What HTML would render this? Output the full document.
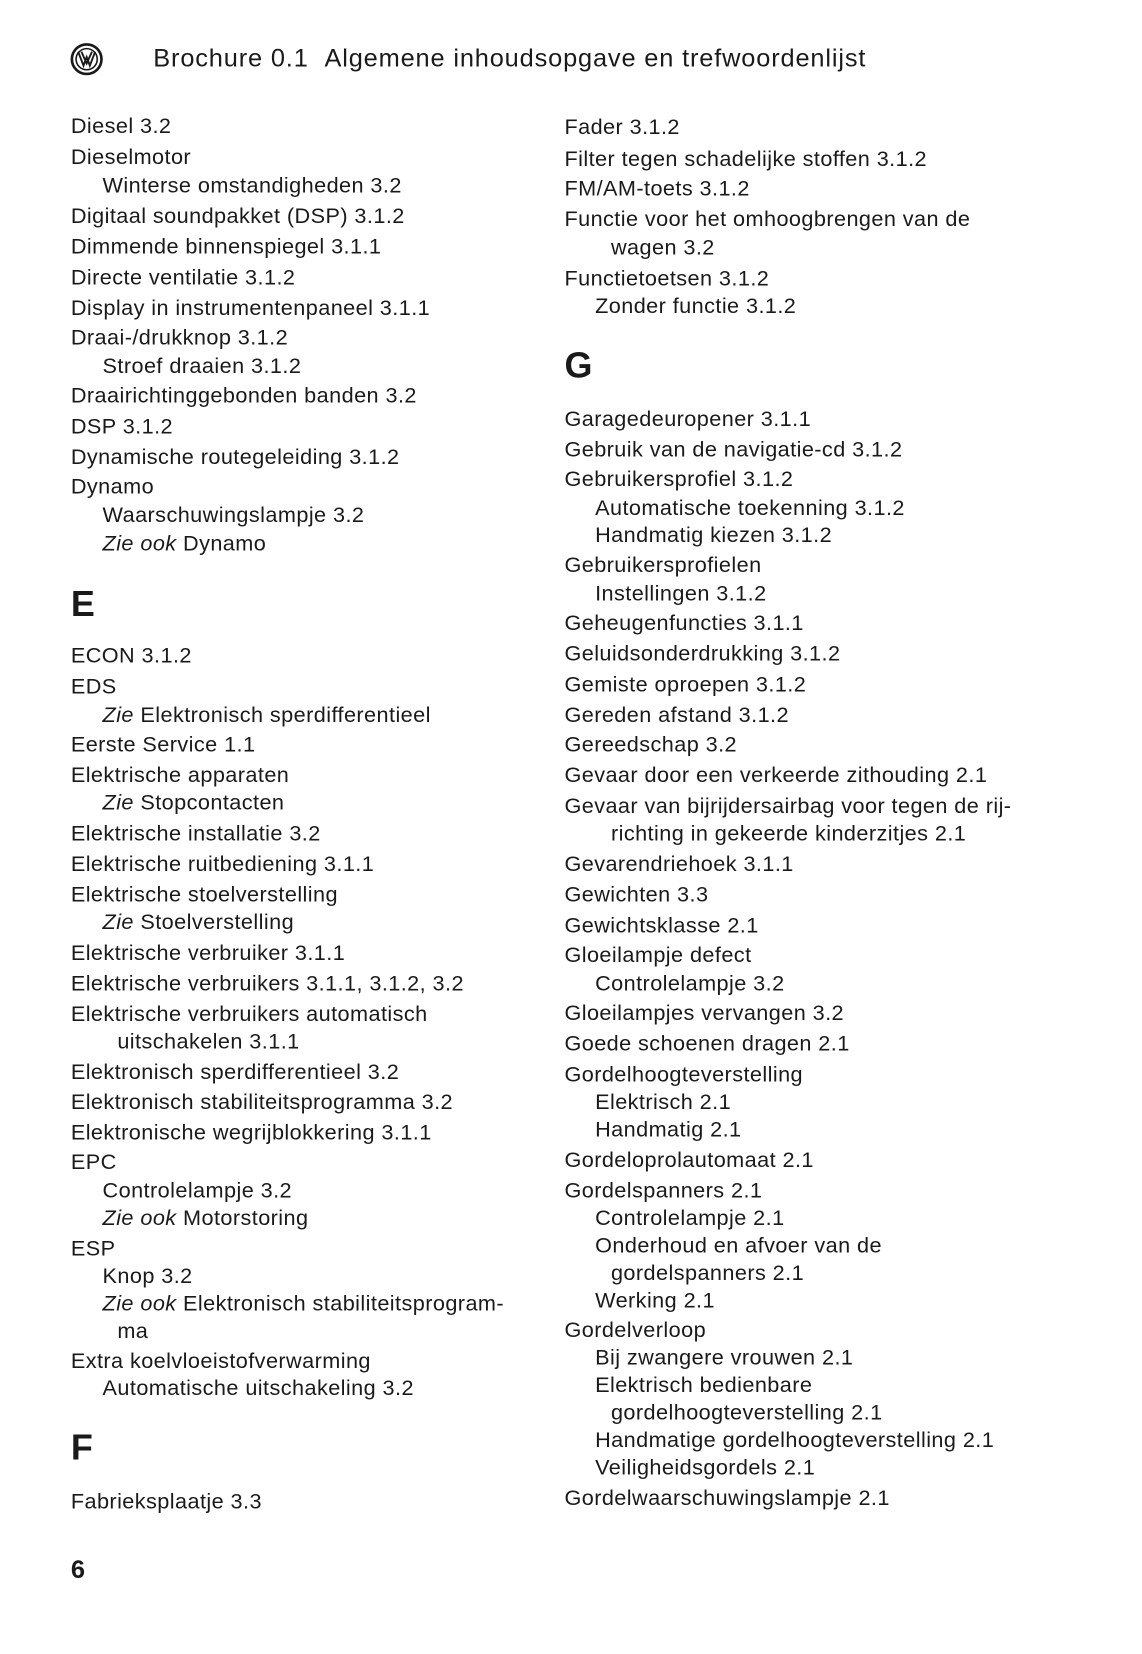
<!DOCTYPE html>
<html><head><meta charset="utf-8"><style>
html,body{margin:0;padding:0;background:#fff;}
body{width:1142px;height:1654px;position:relative;overflow:hidden;font-family:"Liberation Sans",sans-serif;color:#1a1a1a;}
#w{position:absolute;left:0;top:0;width:1080px;height:1565px;transform:scale(1.057);transform-origin:0 0;}
.l{position:absolute;font-size:20.5px;line-height:24px;white-space:nowrap;letter-spacing:0.4px;}
.h{position:absolute;font-size:34px;font-weight:bold;line-height:40px;}
i{font-style:italic;}
</style></head><body><div id="w">
<svg style="position:absolute;left:66px;top:40px" width="32" height="32" viewBox="0 0 32 32"><circle cx="16" cy="16" r="14" fill="none" stroke="#1a1a1a" stroke-width="2.5"/><circle cx="16" cy="16" r="10" fill="none" stroke="#1a1a1a" stroke-width="1.5"/><path d="M8 9 L13 22 L16 14 L19 22 L24 9 M11 9 L16 20 L21 9" fill="none" stroke="#1a1a1a" stroke-width="1.8"/></svg>
<div class="l" style="left:145px;top:42px;font-size:24px;line-height:28px;letter-spacing:0.8px">Brochure 0.1 &nbsp;Algemene inhoudsopgave en trefwoordenlijst</div>

<div class="l" style="left:67px;top:108px">Diesel 3.2</div>
<div class="l" style="left:67px;top:137px">Dieselmotor</div>
<div class="l" style="left:97px;top:164px">Winterse omstandigheden 3.2</div>
<div class="l" style="left:67px;top:193px">Digitaal soundpakket (DSP) 3.1.2</div>
<div class="l" style="left:67px;top:222px">Dimmende binnenspiegel 3.1.1</div>
<div class="l" style="left:67px;top:251px">Directe ventilatie 3.1.2</div>
<div class="l" style="left:67px;top:280px">Display in instrumentenpaneel 3.1.1</div>
<div class="l" style="left:67px;top:308px">Draai-/drukknop 3.1.2</div>
<div class="l" style="left:97px;top:335px">Stroef draaien 3.1.2</div>
<div class="l" style="left:67px;top:363px">Draairichtinggebonden banden 3.2</div>
<div class="l" style="left:67px;top:392px">DSP 3.1.2</div>
<div class="l" style="left:67px;top:421px">Dynamische routegeleiding 3.1.2</div>
<div class="l" style="left:67px;top:449px">Dynamo</div>
<div class="l" style="left:97px;top:476px">Waarschuwingslampje 3.2</div>
<div class="l" style="left:97px;top:503px"><i>Zie ook</i> Dynamo</div>
<div class="h" style="left:67px;top:552px">E</div>
<div class="l" style="left:67px;top:609px">ECON 3.1.2</div>
<div class="l" style="left:67px;top:638px">EDS</div>
<div class="l" style="left:97px;top:665px"><i>Zie</i> Elektronisch sperdifferentieel</div>
<div class="l" style="left:67px;top:693px">Eerste Service 1.1</div>
<div class="l" style="left:67px;top:722px">Elektrische apparaten</div>
<div class="l" style="left:97px;top:748px"><i>Zie</i> Stopcontacten</div>
<div class="l" style="left:67px;top:777px">Elektrische installatie 3.2</div>
<div class="l" style="left:67px;top:806px">Elektrische ruitbediening 3.1.1</div>
<div class="l" style="left:67px;top:835px">Elektrische stoelverstelling</div>
<div class="l" style="left:97px;top:861px"><i>Zie</i> Stoelverstelling</div>
<div class="l" style="left:67px;top:890px">Elektrische verbruiker 3.1.1</div>
<div class="l" style="left:67px;top:919px">Elektrische verbruikers 3.1.1, 3.1.2, 3.2</div>
<div class="l" style="left:67px;top:948px">Elektrische verbruikers automatisch</div>
<div class="l" style="left:111px;top:974px">uitschakelen 3.1.1</div>
<div class="l" style="left:67px;top:1003px">Elektronisch sperdifferentieel 3.2</div>
<div class="l" style="left:67px;top:1031px">Elektronisch stabiliteitsprogramma 3.2</div>
<div class="l" style="left:67px;top:1060px">Elektronische wegrijblokkering 3.1.1</div>
<div class="l" style="left:67px;top:1088px">EPC</div>
<div class="l" style="left:97px;top:1115px">Controlelampje 3.2</div>
<div class="l" style="left:97px;top:1141px"><i>Zie ook</i> Motorstoring</div>
<div class="l" style="left:67px;top:1170px">ESP</div>
<div class="l" style="left:97px;top:1196px">Knop 3.2</div>
<div class="l" style="left:97px;top:1222px"><i>Zie ook</i> Elektronisch stabiliteitsprogram-</div>
<div class="l" style="left:111px;top:1248px">ma</div>
<div class="l" style="left:67px;top:1276px">Extra koelvloeistofverwarming</div>
<div class="l" style="left:97px;top:1302px">Automatische uitschakeling 3.2</div>
<div class="h" style="left:67px;top:1350px">F</div>
<div class="l" style="left:67px;top:1409px">Fabrieksplaatje 3.3</div>
<div class="l" style="left:67px;top:1472px;font-size:24px;line-height:28px;font-weight:bold">6</div>

<div class="l" style="left:534px;top:109px">Fader 3.1.2</div>
<div class="l" style="left:534px;top:139px">Filter tegen schadelijke stoffen 3.1.2</div>
<div class="l" style="left:534px;top:167px">FM/AM-toets 3.1.2</div>
<div class="l" style="left:534px;top:196px">Functie voor het omhoogbrengen van de</div>
<div class="l" style="left:578px;top:223px">wagen 3.2</div>
<div class="l" style="left:534px;top:252px">Functietoetsen 3.1.2</div>
<div class="l" style="left:563px;top:278px">Zonder functie 3.1.2</div>
<div class="h" style="left:534px;top:326px">G</div>
<div class="l" style="left:534px;top:385px">Garagedeuropener 3.1.1</div>
<div class="l" style="left:534px;top:414px">Gebruik van de navigatie-cd 3.1.2</div>
<div class="l" style="left:534px;top:442px">Gebruikersprofiel 3.1.2</div>
<div class="l" style="left:563px;top:469px">Automatische toekenning 3.1.2</div>
<div class="l" style="left:563px;top:495px">Handmatig kiezen 3.1.2</div>
<div class="l" style="left:534px;top:523px">Gebruikersprofielen</div>
<div class="l" style="left:563px;top:550px">Instellingen 3.1.2</div>
<div class="l" style="left:534px;top:578px">Geheugenfuncties 3.1.1</div>
<div class="l" style="left:534px;top:607px">Geluidsonderdrukking 3.1.2</div>
<div class="l" style="left:534px;top:636px">Gemiste oproepen 3.1.2</div>
<div class="l" style="left:534px;top:665px">Gereden afstand 3.1.2</div>
<div class="l" style="left:534px;top:693px">Gereedschap 3.2</div>
<div class="l" style="left:534px;top:722px">Gevaar door een verkeerde zithouding 2.1</div>
<div class="l" style="left:534px;top:751px">Gevaar van bijrijdersairbag voor tegen de rij-</div>
<div class="l" style="left:578px;top:777px">richting in gekeerde kinderzitjes 2.1</div>
<div class="l" style="left:534px;top:806px">Gevarendriehoek 3.1.1</div>
<div class="l" style="left:534px;top:835px">Gewichten 3.3</div>
<div class="l" style="left:534px;top:864px">Gewichtsklasse 2.1</div>
<div class="l" style="left:534px;top:892px">Gloeilampje defect</div>
<div class="l" style="left:563px;top:919px">Controlelampje 3.2</div>
<div class="l" style="left:534px;top:947px">Gloeilampjes vervangen 3.2</div>
<div class="l" style="left:534px;top:976px">Goede schoenen dragen 2.1</div>
<div class="l" style="left:534px;top:1005px">Gordelhoogteverstelling</div>
<div class="l" style="left:563px;top:1031px">Elektrisch 2.1</div>
<div class="l" style="left:563px;top:1057px">Handmatig 2.1</div>
<div class="l" style="left:534px;top:1086px">Gordeloprolautomaat 2.1</div>
<div class="l" style="left:534px;top:1115px">Gordelspanners 2.1</div>
<div class="l" style="left:563px;top:1141px">Controlelampje 2.1</div>
<div class="l" style="left:563px;top:1167px">Onderhoud en afvoer van de</div>
<div class="l" style="left:578px;top:1193px">gordelspanners 2.1</div>
<div class="l" style="left:563px;top:1219px">Werking 2.1</div>
<div class="l" style="left:534px;top:1247px">Gordelverloop</div>
<div class="l" style="left:563px;top:1273px">Bij zwangere vrouwen 2.1</div>
<div class="l" style="left:563px;top:1299px">Elektrisch bedienbare</div>
<div class="l" style="left:578px;top:1325px">gordelhoogteverstelling 2.1</div>
<div class="l" style="left:563px;top:1351px">Handmatige gordelhoogteverstelling 2.1</div>
<div class="l" style="left:563px;top:1377px">Veiligheidsgordels 2.1</div>
<div class="l" style="left:534px;top:1406px">Gordelwaarschuwingslampje 2.1</div>
</div></body></html>
